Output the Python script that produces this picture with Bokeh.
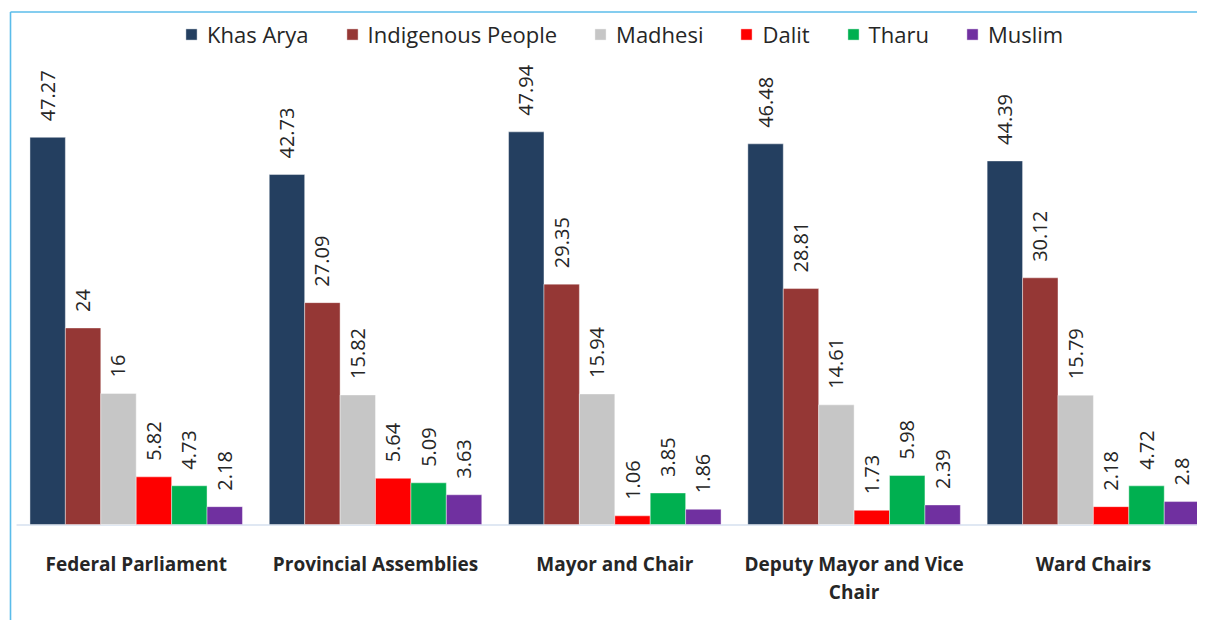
import math
from bokeh.plotting import figure
from bokeh.models import ColumnDataSource, Legend, LegendItem, Range1d
from bokeh.core.properties import value
from bokeh.embed import file_html
from bokeh.resources import INLINE

categories = ["Federal Parliament", "Provincial Assemblies", "Mayor and Chair",
              "Deputy Mayor and Vice\nChair", "Ward Chairs"]
series_names = ["Khas Arya", "Indigenous People", "Madhesi", "Dalit", "Tharu", "Muslim"]
khas_arya = [47.27, 42.73, 47.94, 46.48, 44.39]
indigenous = [24, 27.09, 29.35, 28.81, 30.12]
madhesi = [16, 15.82, 15.94, 14.61, 15.79]
dalit = [5.82, 5.64, 1.06, 1.73, 2.18]
tharu = [4.73, 5.09, 3.85, 5.98, 4.72]
muslim = [2.18, 3.63, 1.86, 2.39, 2.8]
colors = ["#243f60", "#953735", "#c6c6c6", "#fe0000", "#00b050", "#7030a0"]
series_values = [khas_arya, indigenous, madhesi, dalit, tharu, muslim]

FONT = "Open Sans"
BAR_W = 0.148
X0, X1 = -0.5671, 4.4350
Y0, Y1 = -11.72, 63.98

p = figure(width=1197, height=620, output_backend="svg", toolbar_location=None,
           x_axis_location=None, y_axis_location=None,
           x_range=Range1d(X0, X1), y_range=Range1d(Y0, Y1),
           min_border=0, min_border_left=0, min_border_right=0,
           min_border_top=0, min_border_bottom=0)
p.grid.visible = False
p.outline_line_color = None
p.background_fill_color = "white"
p.border_fill_color = "white"

# chart border lines (top and left)
p.segment(x0=[-0.5253], y0=[62.58], x1=[X1], y1=[62.58], line_color="#5bbcea", line_width=1.6)
p.segment(x0=[-0.5253], y0=[Y0], x1=[-0.5253], y1=[62.58], line_color="#5bbcea", line_width=1.6)
# baseline
p.segment(x0=[-0.5], y0=[-0.05], x1=[X1], y1=[-0.05], line_color="#d6e0ef", line_width=1.5)

items = []
for j, (name, vals, col) in enumerate(zip(series_names, series_values, colors)):
    xs = [i + (j - 2.5) * BAR_W for i in range(len(categories))]
    src = ColumnDataSource(dict(x=xs, top=vals, label=[f"{v:g}" for v in vals]))
    r = p.vbar(x="x", top="top", bottom=0, width=BAR_W, source=src,
               fill_color=col, line_color="white", line_width=0.6, line_alpha=0.7)
    p.text(x="x", y="top", text="label", source=src, angle=math.pi / 2,
           text_align="left", text_baseline="middle", y_offset=-16,
           text_font=value(FONT), text_font_size="20px", text_color="#262626")
    items.append(LegendItem(label=name, renderers=[r]))

cat_src = ColumnDataSource(dict(x=list(range(len(categories))), y=[-3.25] * len(categories), text=categories))
p.text(x="x", y="y", text="text", source=cat_src, text_align="center", text_baseline="top",
       text_font=value(FONT), text_font_style="bold", text_font_size="19px",
       text_color="#262626", text_line_height=1.08)

legend = Legend(items=items, orientation="horizontal", location=(184, 571),
                glyph_width=14, glyph_height=14, label_standoff=9, spacing=36,
                padding=0, margin=0, border_line_alpha=0, background_fill_alpha=0,
                label_text_font=FONT, label_text_font_size="22px", label_text_color="#262626")
p.add_layout(legend, "center")

open("out.html", "w").write(file_html(p, INLINE))
